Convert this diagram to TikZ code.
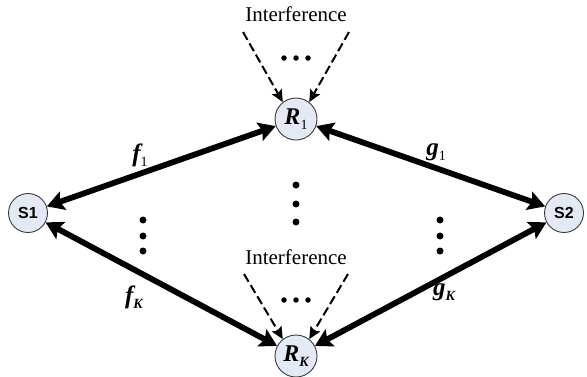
\documentclass[tikz,border=0pt]{standalone}
\usepackage{fontspec}
\setmainfont{Liberation Serif}
\newfontfamily\labelsans{Liberation Sans}
\usetikzlibrary{arrows.meta}
\definecolor{nodefill}{HTML}{E4EAF5}
\definecolor{nodeline}{HTML}{3A3A3A}
\tikzset{
  endpt/.style={circle, draw=nodeline, fill=nodefill, line width=0.9pt, minimum size=39pt, inner sep=0pt,
    font=\labelsans\bfseries\fontsize{16}{16}\selectfont},
  relay/.style={circle, draw=nodeline, fill=nodefill, line width=0.9pt, minimum size=42pt, inner sep=0pt,
    font=\bfseries\itshape\fontsize{24}{24}\selectfont},
  link/.style={line width=5.8pt, {Stealth[length=17pt,width=19pt,inset=3pt]}-{Stealth[length=17pt,width=19pt,inset=3pt]}},
  interf/.style={dash pattern=on 9pt off 4pt, line width=2pt, -{Stealth[length=12pt,width=11pt,inset=2pt]}},
  ilabel/.style={font=\fontsize{21}{21}\selectfont, inner sep=0pt},
  chlabel/.style={font=\bfseries\itshape\fontsize{25}{25}\selectfont, inner sep=0pt},
  dot/.style={circle, fill=black, inner sep=0pt, minimum size=7pt},
  hdot/.style={circle, fill=black, inner sep=0pt, minimum size=5.5pt}
}
\newcommand{\sub}[1]{\raisebox{-5pt}{\fontsize{14}{14}\selectfont #1}}
\newcommand{\one}{\mdseries\upshape 1}
\begin{document}
\begin{tikzpicture}[x=1pt, y=-1pt]
  \useasboundingbox (0,0) rectangle (587,376);

  % terminal and relay nodes
  \node[endpt] (s1) at (28,213) {S1};
  \node[endpt] (s2) at (564,213) {S2};
  \node[relay] (r1) at (296,119) {R\sub{\one}};
  \node[relay] (rk) at (296,356) {R\sub{K}};

  % two-hop links
  \draw[link] (s1) -- (r1);
  \draw[link] (r1) -- (s2);
  \draw[link] (s1) -- (rk);
  \draw[link] (rk) -- (s2);

  % channel labels
  \node[chlabel] (f1) at (140,155) {f\sub{\one}};
  \node[chlabel] (g1) at (436,152) {g\sub{\one}};
  \node[chlabel] (fk) at (134,297) {f\sub{K}};
  \node[chlabel] (gk) at (444,292) {g\sub{K}};

  % interference at the first relay
  \node[ilabel] (it) at (296,14) {Interference};
  \coordinate (it1) at (243,32);
  \coordinate (it2) at (349,32);
  \draw[interf] (it1) -- (r1.128);
  \draw[interf] (it2) -- (r1.52);
  \node[hdot] (ht1) at (284,58) {};
  \node[hdot] (ht2) at (296,58) {};
  \node[hdot] (ht3) at (308,58) {};

  % interference at the K-th relay
  \node[ilabel] (ib) at (296,257) {Interference};
  \coordinate (ib1) at (244,274);
  \coordinate (ib2) at (348,274);
  \draw[interf] (ib1) -- (rk.128);
  \draw[interf] (ib2) -- (rk.52);
  \node[hdot] (hb1) at (284,300) {};
  \node[hdot] (hb2) at (296,300) {};
  \node[hdot] (hb3) at (308,300) {};

  % vertical ellipses between the branches
  \foreach \x/\ya/\yb/\yc/\n in {143/220/236/251/l, 296/185/204/222/m, 440/220/236/251/r}{
    \node[dot] (\n a) at (\x,\ya) {};
    \node[dot] (\n b) at (\x,\yb) {};
    \node[dot] (\n c) at (\x,\yc) {};
  }
\end{tikzpicture}
\end{document}
